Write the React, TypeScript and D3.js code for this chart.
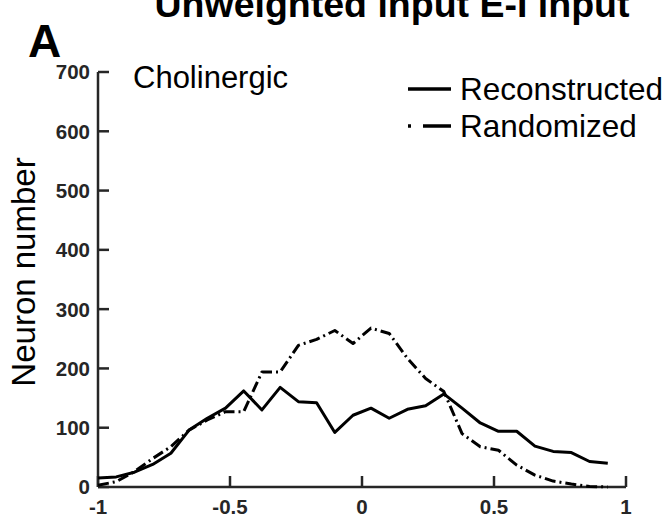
import React from "react";
import * as d3 from "d3";

const binCenters = [-1, -0.931, -0.862, -0.793, -0.724, -0.655, -0.586, -0.517, -0.448, -0.379, -0.31, -0.241, -0.172, -0.103, -0.034, 0.034, 0.103, 0.172, 0.241, 0.31, 0.379, 0.448, 0.517, 0.586, 0.655, 0.724, 0.793, 0.862, 0.931];
const reconstructed = [15, 17, 25, 38, 57, 96, 116, 133, 162, 130, 168, 144, 142, 92, 121, 133, 116, 131, 137, 157, 133, 108, 94, 94, 69, 60, 58, 43, 40];
const randomized = [3, 9, 26, 48, 68, 96, 113, 127, 127, 194, 194, 239, 249, 264, 242, 268, 259, 217, 183, 161, 90, 68, 62, 37, 20, 10, 5, 1, 0];
const xTicks = [-1, -0.5, 0, 0.5, 1];
const xTickLabels = ["-1", "-0.5", "0", "0.5", "1"];
const yTicks = [0, 100, 200, 300, 400, 500, 600, 700];
const legendLabels = ["Reconstructed", "Randomized"];
const title = "Unweighted input E-I input";
const panelLabel = "A";
const subtitle = "Cholinergic";
const yLabel = "Neuron number";

const W = 668;
const H = 518;
const FONT = "'Liberation Sans', Arial, Helvetica, sans-serif";
const AX = "#262626";

export default function App() {
  const x = d3.scaleLinear().domain([-1, 1]).range([98, 626]);
  const y = d3.scaleLinear().domain([0, 700]).range([487, 72]);
  const line = d3
    .line<number>()
    .x((_, i) => x(binCenters[i]))
    .y((d) => y(d));
  const tickLen = 11;
  return (
    <div style={{ position: "fixed", left: 0, top: 0 }}>
      <svg width={W} height={H} style={{ display: "block", background: "#fff" }}>
        <text x={392} y={17} textAnchor="middle" fontFamily={FONT} fontWeight="bold" fontSize={37.5}>
          {title}
        </text>
        <text x={28} y={57} fontFamily={FONT} fontWeight="bold" fontSize={46}>
          {panelLabel}
        </text>
        {/* axes */}
        <g stroke={AX} strokeWidth={2.5} fill="none">
          <line x1={x(-1)} x2={x(1)} y1={y(0)} y2={y(0)} />
          <line x1={x(-1)} x2={x(-1)} y1={y(0)} y2={y(700)} />
          {yTicks.map((t) => (
            <line key={"yt" + t} x1={x(-1)} x2={x(-1) + tickLen} y1={y(t)} y2={y(t)} />
          ))}
          {xTicks.map((t) => (
            <line key={"xt" + t} x1={x(t)} x2={x(t)} y1={y(0)} y2={y(0) - tickLen} />
          ))}
        </g>
        <g fontFamily={FONT} fontWeight="bold" fontSize={20.5} fill={AX}>
          {yTicks.map((t) => (
            <text key={"yl" + t} x={x(-1) - 8} y={y(t)} dy="0.36em" textAnchor="end">
              {t}
            </text>
          ))}
          {xTicks.map((t, i) => (
            <text key={"xl" + t} x={x(t)} y={y(0) + 27} textAnchor="middle">
              {xTickLabels[i]}
            </text>
          ))}
        </g>
        <text
          transform={`translate(35, ${272}) rotate(-90)`}
          textAnchor="middle"
          fontFamily={FONT}
          fontSize={33}
        >
          {yLabel}
        </text>
        <text x={133} y={88} fontFamily={FONT} fontSize={31}>
          {subtitle}
        </text>
        {/* data */}
        <path d={line(randomized) || ""} fill="none" stroke="#000" strokeWidth={3} strokeDasharray="11,4,2,4" strokeLinejoin="round" />
        <path d={line(reconstructed) || ""} fill="none" stroke="#000" strokeWidth={3} strokeLinejoin="round" />
        {/* legend */}
        <g>
          <line x1={408} x2={451} y1={89} y2={89} stroke="#000" strokeWidth={3.5} />
          <line x1={408} x2={451} y1={126} y2={126} stroke="#000" strokeWidth={3.5} strokeDasharray="3,12,28" />
          <text x={460} y={100} fontFamily={FONT} fontSize={31.5}>
            {legendLabels[0]}
          </text>
          <text x={460} y={137} fontFamily={FONT} fontSize={31.5}>
            {legendLabels[1]}
          </text>
        </g>
      </svg>
    </div>
  );
}
